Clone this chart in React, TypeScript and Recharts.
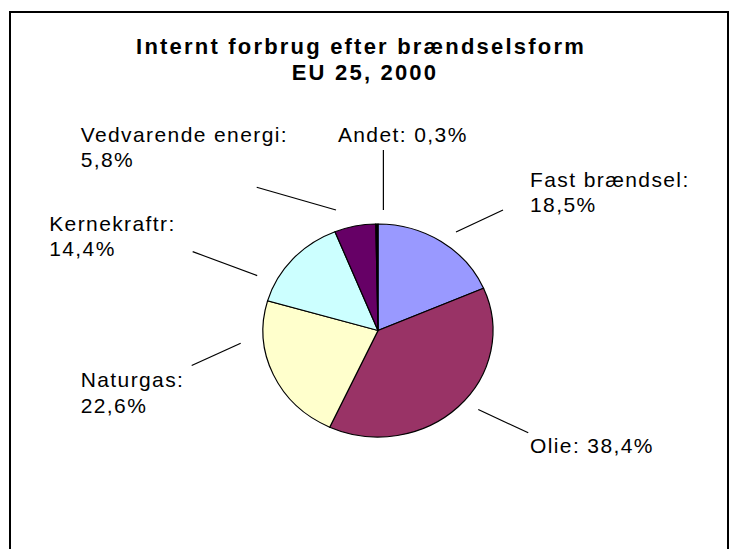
import { PieChart, Pie, Cell } from 'recharts';

const categories = ['Fast brændsel', 'Olie', 'Naturgas', 'Kernekraftr', 'Vedvarende energi', 'Andet'];
const shares = [18.5, 38.4, 22.6, 14.4, 5.8, 0.3];
// the tiny "Andet" wedge reads as solid black in the original
const colors = ['#9999FF', '#993366', '#FFFFCC', '#CCFFFF', '#660066', '#000000'];
const twoLineLabel = [true, false, true, true, true, false];
const titleLines = ['Internt forbrug efter brændselsform', 'EU 25, 2000'];

const data = categories.map((name, i) => ({ name, value: shares[i] }));

// the original pie is a bit flatter than it is wide
const SQUASH = 106.5 / 115;
const CX = 378;
const CY = 330.5;
const FONT = 'Liberation Sans, Arial, sans-serif';

// leader line + text placement per slice (Excel-style spread)
// da: angle nudge from slice middle, r: line start radius, dx/dy: line vector, tx/ty: text offset from line end
const LABEL_POS = [
  { da: 5.1, r: 125.6, dx: 47, dy: -22, tx: 27, ty: -23.4 },
  { da: -7.5, r: 127.6, dx: 50, dy: 23.4, tx: 1.7, ty: 20.6 },
  { da: 19.2, r: 137.9, dx: -49, dy: 22.4, tx: -111, ty: 21.6 },
  { da: -17.7, r: 132.7, dx: -64.5, dy: -24, tx: -143.5, ty: -21 },
  { da: -7.7, r: 127.6, dx: -79.3, dy: -22.7, tx: -176, ty: -45.6 },
  { da: 3.1, r: 120.6, dx: 0, dy: -60, tx: -45.5, ty: -8.3 },
];

const fmt = (v: number) => `${v.toFixed(1).replace('.', ',')}%`;

function renderLabel(props: any) {
  const { cx, cy, midAngle, index, name, value } = props;
  const p = LABEL_POS[index];
  const t = ((90 - midAngle + p.da) * Math.PI) / 180;
  const x1 = cx + p.r * Math.sin(t);
  const o1 = -p.r * Math.cos(t);
  const x2 = x1 + p.dx;
  const o2 = o1 + p.dy;
  const toY = (off: number) => cy + off / SQUASH;
  const tx = x2 + p.tx;
  const ty = toY(o2 + p.ty);
  const lines = twoLineLabel[index] ? [`${name}:`, fmt(value)] : [`${name}: ${fmt(value)}`];
  return (
    <g key={`lbl-${index}`}>
      <line x1={x1} y1={toY(o1)} x2={x2} y2={toY(o2)} stroke="#000" strokeWidth={1.2} />
      <text
        transform={`translate(${tx},${ty}) scale(1,${1 / SQUASH})`}
        fontFamily={FONT}
        fontSize={21}
        letterSpacing={1.4}
        fill="#000"
      >
        {lines.map((s, i) => (
          <tspan key={i} x={0} y={i * 25.5}>
            {s}
          </tspan>
        ))}
      </text>
    </g>
  );
}

export default function App() {
  return (
    <div style={{ position: 'absolute', left: 0, top: 0, width: 741, height: 549, overflow: 'hidden', background: '#fff' }}>
      <svg width={741} height={549} style={{ position: 'absolute', left: 0, top: 0 }}>
        <rect x={10} y={12} width={718} height={600} fill="#fff" stroke="#000" strokeWidth={2} />
        <text x={361} y={53.5} textAnchor="middle" fontFamily={FONT} fontWeight="bold" fontSize={22} letterSpacing={2.2}>
          {titleLines[0]}
        </text>
        <text x={365} y={80} textAnchor="middle" fontFamily={FONT} fontWeight="bold" fontSize={22} letterSpacing={2.2}>
          {titleLines[1]}
        </text>
      </svg>
      <div
        style={{
          position: 'absolute',
          left: 0,
          top: 0,
          transform: `scaleY(${SQUASH})`,
          transformOrigin: `${CX}px ${CY}px`,
        }}
      >
        <PieChart width={741} height={549} margin={{ top: 0, right: 0, bottom: 0, left: 0 }}>
          <Pie
            data={data}
            dataKey="value"
            nameKey="name"
            cx={CX}
            cy={CY}
            outerRadius={115}
            startAngle={90}
            endAngle={-270}
            stroke="#000"
            strokeWidth={1.2}
            label={renderLabel}
            labelLine={false}
            isAnimationActive={false}
          >
            {data.map((d, i) => (
              <Cell key={d.name} fill={colors[i]} />
            ))}
          </Pie>
        </PieChart>
      </div>
    </div>
  );
}
